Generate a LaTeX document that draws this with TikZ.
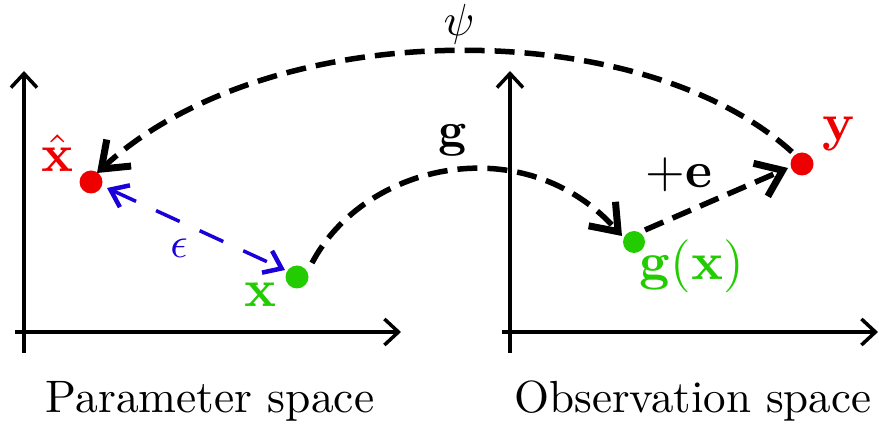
\RequirePackage{fix-cm}
\documentclass[tikz,border=0pt]{standalone}
\usepackage{amsmath}
\usepackage{graphicx}
\usetikzlibrary{arrows.meta}
\definecolor{myred}{RGB}{238,0,0}
\definecolor{mygreen}{RGB}{34,204,0}
\definecolor{myblue}{RGB}{26,0,217}
\tikzset{
  axis/.style={line width=3.5pt, -{Straight Barb[length=14pt,width=26pt]}},
  blackhead/.tip={Straight Barb[length=24pt,width=36pt,line width=7pt]},
  bluehead/.tip={Straight Barb[length=16pt,width=24pt,line width=4.5pt]},
  dasharrow/.style={line width=5.5pt, dash pattern=on 20pt off 10pt, -blackhead},
  bluearrow/.style={myblue, line width=3.5pt, dash pattern=on 26pt off 22pt, bluehead-bluehead},
  dot/.style={circle, inner sep=0pt, minimum size=23pt},
  lbl/.style={inner sep=0pt},
}
\newcommand{\mysc}[2]{\scalebox{#1}{#2}}
\begin{document}
\begin{tikzpicture}[x=1pt,y=-1pt]
\useasboundingbox (0,0) rectangle (879,427);
% axes
\coordinate (lb) at (24,353);
\coordinate (lt) at (24,71);
\coordinate (ll) at (15,332);
\coordinate (lr) at (401,332);
\coordinate (rb) at (510,353);
\coordinate (rt) at (510,71);
\coordinate (rl) at (502,332);
\coordinate (rr) at (878,332);
\draw[axis] (lb) -- (lt);
\draw[axis] (ll) -- (lr);
\draw[axis] (rb) -- (rt);
\draw[axis] (rl) -- (rr);
% dots
\node[dot, fill=myred] (xh) at (91,182) {};
\node[dot, fill=mygreen] (x) at (297,277) {};
\node[dot, fill=mygreen, minimum size=22pt] (gx) at (634,242) {};
\node[dot, fill=myred] (y) at (802,164) {};
% labels
\node[lbl, text=myred] (lxh) at (58,153) {\mysc{5.3}{$\hat{\mathbf{x}}$}};
\node[lbl, text=mygreen] (lx) at (261,295) {\mysc{5.3}{$\mathbf{x}$}};
\node[lbl, text=mygreen] (lgx) at (692,266) {\mysc{5.3}{$\mathbf{g}(\mathbf{x})$}};
\node[lbl, text=myred] (ly) at (839,134) {\mysc{5.3}{$\mathbf{y}$}};
\node[lbl] (le) at (679,175) {\mysc{5.1}{$+\mathbf{e}$}};
\node[lbl] (lg) at (453,140) {\mysc{4.9}{$\mathbf{g}$}};
\node[lbl, anchor=base] (lpsi) at (459,36) {\mysc{4.5}{$\psi$}};
\node[lbl, text=myblue] (leps) at (179,248) {\mysc{4.3}{$\epsilon$}};
\node[lbl, anchor=base] (lp) at (210,413) {\mysc{4.55}{Parameter space}};
\node[lbl, anchor=base] (lo) at (693,413) {\mysc{4.5}{Observation space}};
% connectors
\draw[dasharrow] ([shift={(-10,-12)}]y.center)
  .. controls (640,14) and (270,14) .. ([shift={(6,-9)}]xh.center);
\draw[dasharrow] ([shift={(15,-14)}]x.center)
  .. controls (365,162) and (525,128) .. ([shift={(-12,-6)}]gx.center);
\draw[dasharrow] ([shift={(11,-12)}]gx.center) -- ([shift={(-14,4)}]y.center);
\draw[bluearrow] ([shift={(16,6)}]xh.center) -- ([shift={(-12,-7)}]x.center);
\end{tikzpicture}
\end{document}
